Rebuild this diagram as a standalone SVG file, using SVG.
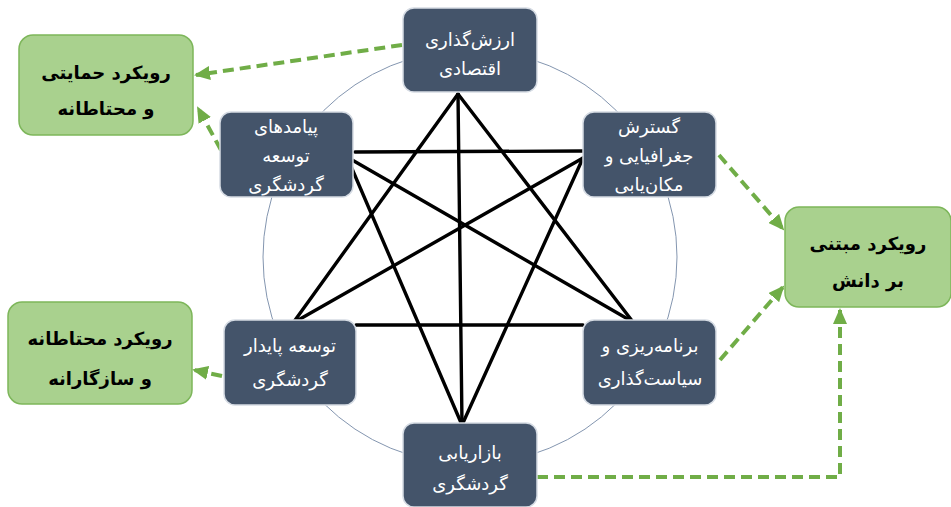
<svg xmlns="http://www.w3.org/2000/svg" width="951" height="507" viewBox="0 0 951 507">
<defs>
<marker id="ga" markerUnits="userSpaceOnUse" markerWidth="16" markerHeight="14" refX="14" refY="7" orient="auto">
<path d="M0,0 L16,7 L0,14 Z" fill="#70AD47"/>
</marker>
<style>
.dn{fill:#44546A;stroke:#D6DCE4;stroke-width:1.5}
.gn{fill:#A9D18E;stroke:#7DB65A;stroke-width:1.5}
.dt{font-family:"DejaVu Sans","Noto Sans",sans-serif;font-size:18px;fill:#FFFFFF;text-anchor:middle}
.gt{font-family:"DejaVu Sans","Noto Sans",sans-serif;font-size:18px;font-weight:bold;fill:#000000;text-anchor:middle}
.bl{stroke:#000;stroke-width:3.4;fill:none;stroke-linecap:round}
.gd{stroke:#70AD47;stroke-width:4;fill:none;stroke-dasharray:11 6;marker-end:url(#ga)}
</style>
</defs>
<rect width="951" height="507" fill="#FFFFFF"/>
<circle cx="470" cy="257" r="207" fill="none" stroke="#8496B0" stroke-width="1"/>
<g id="connectors">
<g id="star">
<line class="bl" x1="458" y1="94" x2="462" y2="425"/>
<line class="bl" x1="458" y1="94" x2="293" y2="323"/>
<line class="bl" x1="458" y1="94" x2="633" y2="322"/>
<line class="bl" x1="355" y1="152" x2="583" y2="151"/>
<line class="bl" x1="356" y1="325" x2="583" y2="325"/>
<line class="bl" x1="347" y1="157" x2="633" y2="322"/>
<line class="bl" x1="347" y1="157" x2="462" y2="425"/>
<line class="bl" x1="583" y1="158" x2="293" y2="323"/>
<line class="bl" x1="583" y1="158" x2="462" y2="425"/>
</g>
<g id="green-arrows">
<line class="gd" x1="402" y1="45" x2="196" y2="75"/>
<line class="gd" x1="221" y1="150" x2="198" y2="108"/>
<line class="gd" x1="222" y1="376" x2="194" y2="370"/>
<line class="gd" x1="719" y1="155" x2="783" y2="229"/>
<line class="gd" x1="720" y1="360" x2="783" y2="287"/>
<polyline class="gd" points="537,477 840,477 840,310"/>
</g>
</g>
<g id="n-top">
<rect class="dn" x="403" y="8" width="134" height="84" rx="11"/>
<text class="dt" x="470" y="46" direction="rtl">ارزش&#x200C;گذاری</text>
<text class="dt" x="470" y="75" direction="rtl">اقتصادی</text>
</g>
<g id="n-tr">
<rect class="dn" x="583" y="112" width="133" height="85" rx="11"/>
<text class="dt" x="649" y="133" direction="rtl">گسترش</text>
<text class="dt" x="649" y="162" direction="rtl">جغرافیایی و</text>
<text class="dt" x="649" y="191" direction="rtl">مکان&#x200C;یابی</text>
</g>
<g id="n-tl">
<rect class="dn" x="220" y="112" width="133" height="85" rx="11"/>
<text class="dt" x="286" y="133" direction="rtl">پیامدهای</text>
<text class="dt" x="286" y="162" direction="rtl">توسعه</text>
<text class="dt" x="286" y="191" direction="rtl">گردشگری</text>
</g>
<g id="n-bl">
<rect class="dn" x="224" y="320" width="132" height="85" rx="11"/>
<text class="dt" x="290" y="352" direction="rtl">توسعه پایدار</text>
<text class="dt" x="290" y="386" direction="rtl">گردشگری</text>
</g>
<g id="n-br">
<rect class="dn" x="583" y="320" width="133" height="85" rx="11"/>
<text class="dt" x="650" y="352" direction="rtl">برنامه&#x200C;ریزی و</text>
<text class="dt" x="650" y="385" direction="rtl">سیاست&#x200C;گذاری</text>
</g>
<g id="n-bottom">
<rect class="dn" x="403" y="423" width="134" height="84" rx="11"/>
<text class="dt" x="470" y="459" direction="rtl">بازاریابی</text>
<text class="dt" x="470" y="490" direction="rtl">گردشگری</text>
</g>
<g id="g-tl">
<rect class="gn" x="19" y="35" width="174" height="100" rx="14"/>
<text class="gt" x="106" y="79" direction="rtl">رویکرد حمایتی</text>
<text class="gt" x="106" y="115" direction="rtl">و محتاطانه</text>
</g>
<g id="g-bl">
<rect class="gn" x="8" y="302" width="184" height="102" rx="14"/>
<text class="gt" x="100" y="345" direction="rtl">رویکرد محتاطانه</text>
<text class="gt" x="100" y="385" direction="rtl">و سازگارانه</text>
</g>
<g id="g-r">
<rect class="gn" x="785" y="207" width="166" height="100" rx="14"/>
<text class="gt" x="868" y="250" direction="rtl">رویکرد مبتنی</text>
<text class="gt" x="868" y="287" direction="rtl">بر دانش</text>
</g>
</svg>
